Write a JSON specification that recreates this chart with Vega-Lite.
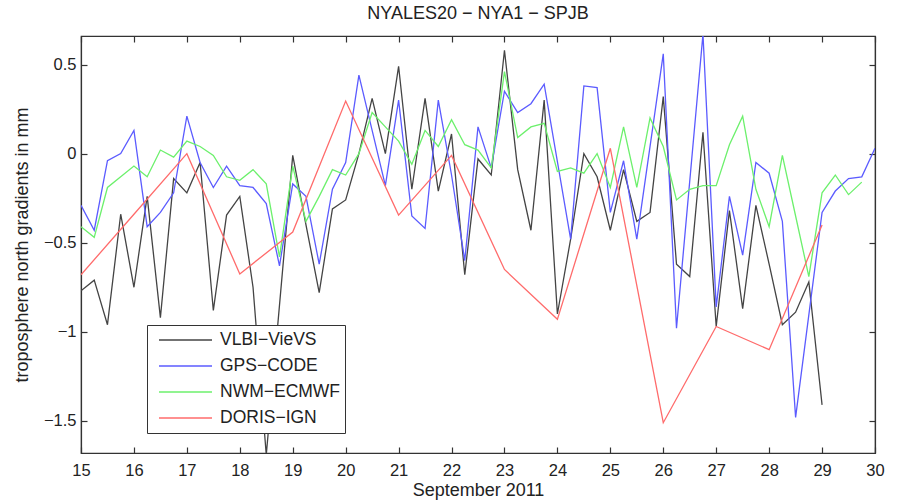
{
  "$schema": "https://vega.github.io/schema/vega-lite/v6.json",
  "width": 794,
  "height": 417,
  "autosize": {"type": "none"},
  "padding": {"left": 81, "top": 36, "right": 25, "bottom": 51},
  "background": "white",
  "config": {
    "font": "Liberation Sans",
    "view": {"stroke": "#333333", "strokeWidth": 1.2},
    "axis": {
      "domainColor": "#333333",
      "tickColor": "#333333",
      "labelColor": "#222222",
      "titleColor": "#222222",
      "labelFont": "Liberation Sans",
      "titleFont": "Liberation Sans",
      "labelFontSize": 16.5,
      "titleFontSize": 18,
      "titleFontWeight": "normal",
      "grid": false,
      "labelFlush": false,
      "tickSize": -6,
      "tickWidth": 1.2,
      "domainWidth": 1.2
    },
    "title": {"font": "Liberation Sans", "fontSize": 18, "fontWeight": "normal", "color": "#222222"}
  },
  "title": {"text": "NYALES20 − NYA1 − SPJB", "offset": 8, "anchor": "middle"},
  "data": {
    "values": [
      {"s": "VLBI−VieVS", "d": 15.0, "v": -0.77},
      {"s": "VLBI−VieVS", "d": 15.25, "v": -0.71},
      {"s": "VLBI−VieVS", "d": 15.5, "v": -0.96},
      {"s": "VLBI−VieVS", "d": 15.75, "v": -0.34},
      {"s": "VLBI−VieVS", "d": 16.0, "v": -0.75},
      {"s": "VLBI−VieVS", "d": 16.25, "v": -0.24},
      {"s": "VLBI−VieVS", "d": 16.5, "v": -0.92},
      {"s": "VLBI−VieVS", "d": 16.75, "v": -0.14},
      {"s": "VLBI−VieVS", "d": 17.0, "v": -0.22},
      {"s": "VLBI−VieVS", "d": 17.25, "v": -0.05},
      {"s": "VLBI−VieVS", "d": 17.5, "v": -0.88},
      {"s": "VLBI−VieVS", "d": 17.75, "v": -0.345},
      {"s": "VLBI−VieVS", "d": 18.0, "v": -0.24},
      {"s": "VLBI−VieVS", "d": 18.25, "v": -0.75},
      {"s": "VLBI−VieVS", "d": 18.5, "v": -1.69},
      {"s": "VLBI−VieVS", "d": 19.0, "v": -0.01},
      {"s": "VLBI−VieVS", "d": 19.25, "v": -0.40},
      {"s": "VLBI−VieVS", "d": 19.5, "v": -0.78},
      {"s": "VLBI−VieVS", "d": 19.75, "v": -0.31},
      {"s": "VLBI−VieVS", "d": 20.0, "v": -0.26},
      {"s": "VLBI−VieVS", "d": 20.25, "v": 0.0},
      {"s": "VLBI−VieVS", "d": 20.5, "v": 0.31},
      {"s": "VLBI−VieVS", "d": 20.75, "v": 0.0},
      {"s": "VLBI−VieVS", "d": 21.0, "v": 0.49},
      {"s": "VLBI−VieVS", "d": 21.25, "v": -0.2},
      {"s": "VLBI−VieVS", "d": 21.5, "v": 0.31},
      {"s": "VLBI−VieVS", "d": 21.75, "v": -0.21},
      {"s": "VLBI−VieVS", "d": 22.0, "v": 0.11},
      {"s": "VLBI−VieVS", "d": 22.25, "v": -0.68},
      {"s": "VLBI−VieVS", "d": 22.5, "v": -0.03},
      {"s": "VLBI−VieVS", "d": 22.75, "v": -0.12},
      {"s": "VLBI−VieVS", "d": 23.0, "v": 0.58},
      {"s": "VLBI−VieVS", "d": 23.25, "v": -0.09},
      {"s": "VLBI−VieVS", "d": 23.5, "v": -0.43},
      {"s": "VLBI−VieVS", "d": 23.75, "v": 0.30},
      {"s": "VLBI−VieVS", "d": 24.0, "v": -0.9},
      {"s": "VLBI−VieVS", "d": 24.25, "v": -0.48},
      {"s": "VLBI−VieVS", "d": 24.5, "v": 0.0},
      {"s": "VLBI−VieVS", "d": 24.75, "v": -0.13},
      {"s": "VLBI−VieVS", "d": 25.0, "v": -0.43},
      {"s": "VLBI−VieVS", "d": 25.25, "v": -0.09},
      {"s": "VLBI−VieVS", "d": 25.5, "v": -0.38},
      {"s": "VLBI−VieVS", "d": 25.75, "v": -0.33},
      {"s": "VLBI−VieVS", "d": 26.0, "v": 0.32},
      {"s": "VLBI−VieVS", "d": 26.25, "v": -0.62},
      {"s": "VLBI−VieVS", "d": 26.5, "v": -0.69},
      {"s": "VLBI−VieVS", "d": 26.75, "v": 0.12},
      {"s": "VLBI−VieVS", "d": 27.0, "v": -0.97},
      {"s": "VLBI−VieVS", "d": 27.25, "v": -0.32},
      {"s": "VLBI−VieVS", "d": 27.5, "v": -0.87},
      {"s": "VLBI−VieVS", "d": 27.75, "v": -0.29},
      {"s": "VLBI−VieVS", "d": 28.0, "v": -0.62},
      {"s": "VLBI−VieVS", "d": 28.25, "v": -0.96},
      {"s": "VLBI−VieVS", "d": 28.5, "v": -0.89},
      {"s": "VLBI−VieVS", "d": 28.75, "v": -0.72},
      {"s": "VLBI−VieVS", "d": 29.0, "v": -1.41},
      {"s": "GPS−CODE", "d": 15.0, "v": -0.29},
      {"s": "GPS−CODE", "d": 15.25, "v": -0.43},
      {"s": "GPS−CODE", "d": 15.5, "v": -0.04},
      {"s": "GPS−CODE", "d": 15.75, "v": 0.0},
      {"s": "GPS−CODE", "d": 16.0, "v": 0.13},
      {"s": "GPS−CODE", "d": 16.25, "v": -0.41},
      {"s": "GPS−CODE", "d": 16.5, "v": -0.33},
      {"s": "GPS−CODE", "d": 16.75, "v": -0.22},
      {"s": "GPS−CODE", "d": 17.0, "v": 0.21},
      {"s": "GPS−CODE", "d": 17.25, "v": -0.05},
      {"s": "GPS−CODE", "d": 17.5, "v": -0.19},
      {"s": "GPS−CODE", "d": 17.75, "v": -0.07},
      {"s": "GPS−CODE", "d": 18.0, "v": -0.18},
      {"s": "GPS−CODE", "d": 18.25, "v": -0.19},
      {"s": "GPS−CODE", "d": 18.5, "v": -0.28},
      {"s": "GPS−CODE", "d": 18.75, "v": -0.63},
      {"s": "GPS−CODE", "d": 19.0, "v": -0.17},
      {"s": "GPS−CODE", "d": 19.25, "v": -0.24},
      {"s": "GPS−CODE", "d": 19.5, "v": -0.62},
      {"s": "GPS−CODE", "d": 19.75, "v": -0.2},
      {"s": "GPS−CODE", "d": 20.0, "v": -0.05},
      {"s": "GPS−CODE", "d": 20.25, "v": 0.44},
      {"s": "GPS−CODE", "d": 20.5, "v": 0.13},
      {"s": "GPS−CODE", "d": 20.75, "v": -0.18},
      {"s": "GPS−CODE", "d": 21.0, "v": 0.30},
      {"s": "GPS−CODE", "d": 21.25, "v": -0.35},
      {"s": "GPS−CODE", "d": 21.5, "v": -0.42},
      {"s": "GPS−CODE", "d": 21.75, "v": 0.30},
      {"s": "GPS−CODE", "d": 22.0, "v": -0.12},
      {"s": "GPS−CODE", "d": 22.25, "v": -0.6},
      {"s": "GPS−CODE", "d": 22.5, "v": 0.15},
      {"s": "GPS−CODE", "d": 22.75, "v": -0.08},
      {"s": "GPS−CODE", "d": 23.0, "v": 0.35},
      {"s": "GPS−CODE", "d": 23.25, "v": 0.23},
      {"s": "GPS−CODE", "d": 23.5, "v": 0.28},
      {"s": "GPS−CODE", "d": 23.75, "v": 0.39},
      {"s": "GPS−CODE", "d": 24.25, "v": -0.48},
      {"s": "GPS−CODE", "d": 24.5, "v": 0.38},
      {"s": "GPS−CODE", "d": 24.75, "v": 0.37},
      {"s": "GPS−CODE", "d": 25.0, "v": -0.33},
      {"s": "GPS−CODE", "d": 25.25, "v": -0.04},
      {"s": "GPS−CODE", "d": 25.5, "v": -0.48},
      {"s": "GPS−CODE", "d": 26.0, "v": 0.56},
      {"s": "GPS−CODE", "d": 26.25, "v": -0.98},
      {"s": "GPS−CODE", "d": 26.75, "v": 0.67},
      {"s": "GPS−CODE", "d": 27.0, "v": -0.86},
      {"s": "GPS−CODE", "d": 27.25, "v": -0.24},
      {"s": "GPS−CODE", "d": 27.5, "v": -0.57},
      {"s": "GPS−CODE", "d": 27.75, "v": -0.05},
      {"s": "GPS−CODE", "d": 28.0, "v": -0.11},
      {"s": "GPS−CODE", "d": 28.25, "v": -0.38},
      {"s": "GPS−CODE", "d": 28.5, "v": -1.48},
      {"s": "GPS−CODE", "d": 29.0, "v": -0.33},
      {"s": "GPS−CODE", "d": 29.25, "v": -0.21},
      {"s": "GPS−CODE", "d": 29.5, "v": -0.14},
      {"s": "GPS−CODE", "d": 29.75, "v": -0.13},
      {"s": "GPS−CODE", "d": 30.0, "v": 0.03},
      {"s": "NWM−ECMWF", "d": 15.0, "v": -0.41},
      {"s": "NWM−ECMWF", "d": 15.25, "v": -0.47},
      {"s": "NWM−ECMWF", "d": 15.5, "v": -0.19},
      {"s": "NWM−ECMWF", "d": 15.75, "v": -0.13},
      {"s": "NWM−ECMWF", "d": 16.0, "v": -0.07},
      {"s": "NWM−ECMWF", "d": 16.25, "v": -0.13},
      {"s": "NWM−ECMWF", "d": 16.5, "v": 0.02},
      {"s": "NWM−ECMWF", "d": 16.75, "v": -0.02},
      {"s": "NWM−ECMWF", "d": 17.0, "v": 0.07},
      {"s": "NWM−ECMWF", "d": 17.25, "v": 0.04},
      {"s": "NWM−ECMWF", "d": 17.5, "v": -0.01},
      {"s": "NWM−ECMWF", "d": 17.75, "v": -0.13},
      {"s": "NWM−ECMWF", "d": 18.0, "v": -0.15},
      {"s": "NWM−ECMWF", "d": 18.25, "v": -0.09},
      {"s": "NWM−ECMWF", "d": 18.5, "v": -0.17},
      {"s": "NWM−ECMWF", "d": 18.75, "v": -0.58},
      {"s": "NWM−ECMWF", "d": 19.0, "v": -0.07},
      {"s": "NWM−ECMWF", "d": 19.25, "v": -0.38},
      {"s": "NWM−ECMWF", "d": 19.5, "v": -0.24},
      {"s": "NWM−ECMWF", "d": 19.75, "v": -0.09},
      {"s": "NWM−ECMWF", "d": 20.0, "v": -0.12},
      {"s": "NWM−ECMWF", "d": 20.25, "v": 0.0},
      {"s": "NWM−ECMWF", "d": 20.5, "v": 0.23},
      {"s": "NWM−ECMWF", "d": 20.75, "v": 0.15},
      {"s": "NWM−ECMWF", "d": 21.0, "v": 0.07},
      {"s": "NWM−ECMWF", "d": 21.25, "v": -0.06},
      {"s": "NWM−ECMWF", "d": 21.5, "v": 0.13},
      {"s": "NWM−ECMWF", "d": 21.75, "v": 0.04},
      {"s": "NWM−ECMWF", "d": 22.0, "v": 0.19},
      {"s": "NWM−ECMWF", "d": 22.25, "v": 0.05},
      {"s": "NWM−ECMWF", "d": 22.5, "v": 0.02},
      {"s": "NWM−ECMWF", "d": 22.75, "v": -0.08},
      {"s": "NWM−ECMWF", "d": 23.0, "v": 0.46},
      {"s": "NWM−ECMWF", "d": 23.25, "v": 0.09},
      {"s": "NWM−ECMWF", "d": 23.5, "v": 0.15},
      {"s": "NWM−ECMWF", "d": 23.75, "v": 0.17},
      {"s": "NWM−ECMWF", "d": 24.0, "v": -0.10},
      {"s": "NWM−ECMWF", "d": 24.25, "v": -0.08},
      {"s": "NWM−ECMWF", "d": 24.5, "v": -0.11},
      {"s": "NWM−ECMWF", "d": 24.75, "v": 0.0},
      {"s": "NWM−ECMWF", "d": 25.0, "v": -0.19},
      {"s": "NWM−ECMWF", "d": 25.25, "v": 0.15},
      {"s": "NWM−ECMWF", "d": 25.5, "v": -0.19},
      {"s": "NWM−ECMWF", "d": 25.75, "v": 0.20},
      {"s": "NWM−ECMWF", "d": 26.0, "v": 0.04},
      {"s": "NWM−ECMWF", "d": 26.25, "v": -0.26},
      {"s": "NWM−ECMWF", "d": 26.5, "v": -0.20},
      {"s": "NWM−ECMWF", "d": 26.75, "v": -0.18},
      {"s": "NWM−ECMWF", "d": 27.0, "v": -0.18},
      {"s": "NWM−ECMWF", "d": 27.25, "v": 0.05},
      {"s": "NWM−ECMWF", "d": 27.5, "v": 0.21},
      {"s": "NWM−ECMWF", "d": 27.75, "v": -0.2},
      {"s": "NWM−ECMWF", "d": 28.0, "v": -0.41},
      {"s": "NWM−ECMWF", "d": 28.25, "v": -0.01},
      {"s": "NWM−ECMWF", "d": 28.5, "v": -0.35},
      {"s": "NWM−ECMWF", "d": 28.75, "v": -0.69},
      {"s": "NWM−ECMWF", "d": 29.0, "v": -0.22},
      {"s": "NWM−ECMWF", "d": 29.25, "v": -0.12},
      {"s": "NWM−ECMWF", "d": 29.5, "v": -0.23},
      {"s": "NWM−ECMWF", "d": 29.75, "v": -0.16},
      {"s": "DORIS−IGN", "d": 15, "v": -0.68},
      {"s": "DORIS−IGN", "d": 16, "v": -0.34},
      {"s": "DORIS−IGN", "d": 17, "v": 0.0},
      {"s": "DORIS−IGN", "d": 18, "v": -0.675},
      {"s": "DORIS−IGN", "d": 19, "v": -0.44},
      {"s": "DORIS−IGN", "d": 20, "v": 0.295},
      {"s": "DORIS−IGN", "d": 21, "v": -0.345},
      {"s": "DORIS−IGN", "d": 22, "v": -0.01},
      {"s": "DORIS−IGN", "d": 23, "v": -0.65},
      {"s": "DORIS−IGN", "d": 24, "v": -0.93},
      {"s": "DORIS−IGN", "d": 25, "v": 0.03},
      {"s": "DORIS−IGN", "d": 26, "v": -1.51},
      {"s": "DORIS−IGN", "d": 27, "v": -0.97},
      {"s": "DORIS−IGN", "d": 28, "v": -1.10},
      {"s": "DORIS−IGN", "d": 29, "v": -0.40}
    ]
  },
  "layer": [
    {
      "mark": {"type": "line", "strokeWidth": 1.3, "clip": true},
      "encoding": {
        "x": {
          "field": "d", "type": "quantitative",
          "scale": {"domain": [15, 30], "nice": false, "zero": false},
          "axis": {"values": [15,16,17,18,19,20,21,22,23,24,25,26,27,28,29,30], "format": "d", "title": "September 2011", "labelPadding": 15, "titlePadding": 3, "orient": "bottom"}
        },
        "y": {
          "field": "v", "type": "quantitative",
          "scale": {"domain": [-1.68, 0.66], "nice": false, "zero": false},
          "axis": {"values": [-1.5, -1, -0.5, 0, 0.5], "format": "~g", "title": "troposphere north gradients in mm", "labelPadding": 11, "titleX": -59, "titleBaseline": "middle", "orient": "left"}
        },
        "color": {
          "field": "s", "type": "nominal",
          "sort": ["VLBI−VieVS", "GPS−CODE", "NWM−ECMWF", "DORIS−IGN"],
          "scale": {"domain": ["VLBI−VieVS", "GPS−CODE", "NWM−ECMWF", "DORIS−IGN"], "range": ["#444444", "#5b5bff", "#6cf06c", "#ff6b6b"]},
          "legend": {
            "title": null, "orient": "none", "legendX": 66, "legendY": 289,
            "symbolType": "stroke", "symbolSize": 2809, "symbolStrokeWidth": 1.3,
            "clipHeight": 22, "rowPadding": 4, "padding": 4, "symbolOffset": 7,
            "labelOffset": 7, "labelFontSize": 17.5, "labelFont": "Liberation Sans", "labelColor": "#222222",
            "strokeColor": "#333333", "fillColor": "white"
          }
        }
      }
    },
    {
      "mark": {"type": "point", "opacity": 0},
      "encoding": {
        "x": {"field": "d", "type": "quantitative", "axis": {"orient": "top", "labels": false, "title": null, "values": [15,16,17,18,19,20,21,22,23,24,25,26,27,28,29,30]}},
        "y": {"field": "v", "type": "quantitative", "axis": {"orient": "right", "labels": false, "title": null, "values": [-1.5, -1, -0.5, 0, 0.5]}}
      }
    }
  ],
  "resolve": {"axis": {"x": "independent", "y": "independent"}}
}
